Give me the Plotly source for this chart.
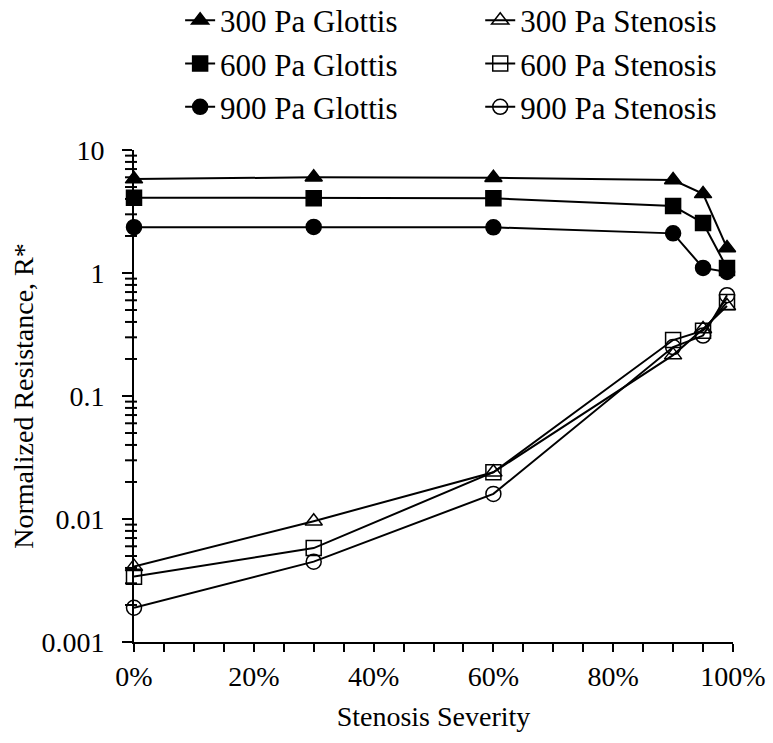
import plotly.graph_objects as go

severity = [0.0, 0.30, 0.60, 0.90, 0.95, 0.99]
glottis_300 = [5.8, 6.0, 5.95, 5.7, 4.4, 1.6]
glottis_600 = [4.1, 4.05, 4.05, 3.5, 2.55, 1.1]
glottis_900 = [2.36, 2.37, 2.35, 2.1, 1.1, 1.02]
stenosis_300 = [0.0041, 0.0096, 0.024, 0.215, 0.35, 0.54]
stenosis_600 = [0.0034, 0.0058, 0.024, 0.285, 0.34, 0.58]
stenosis_900 = [0.0019, 0.0045, 0.016, 0.25, 0.31, 0.66]

y_major = [0.001, 0.01, 0.1, 1, 10]
y_major_text = ["0.001", "0.01", "0.1", "1", "10"]

series = [
    ("300 Pa Glottis", glottis_300, "triangle-up", "legend"),
    ("600 Pa Glottis", glottis_600, "square", "legend"),
    ("900 Pa Glottis", glottis_900, "circle", "legend"),
    ("300 Pa Stenosis", stenosis_300, "triangle-up-open", "legend2"),
    ("600 Pa Stenosis", stenosis_600, "square-open", "legend2"),
    ("900 Pa Stenosis", stenosis_900, "circle-open", "legend2"),
]

FONT = "Liberation Serif, Times New Roman, serif"

fig = go.Figure()
for name, vals, sym, lg in series:
    fig.add_trace(go.Scatter(
        x=severity, y=vals, name=name, mode="lines+markers",
        line=dict(color="black", width=2),
        marker=dict(symbol=sym, size=15, color="black",
                    line=dict(color="black", width=1.5)),
        cliponaxis=False, legend=lg,
    ))

# unlabelled sub-decade tick marks (2..9 x each decade) on the log axis
minor_vals = [m * v for v in y_major[:-1] for m in range(2, 10)]
for v in minor_vals:
    fig.add_shape(type="line", xref="x domain", yref="y",
                  x0=-0.015, x1=0.005, y0=v, y1=v,
                  line=dict(color="black", width=2), layer="above")

leg_common = dict(
    orientation="v", y=1.318, yanchor="top", xanchor="left",
    font=dict(family=FONT, size=31, color="black"),
    bgcolor="rgba(0,0,0,0)", traceorder="normal", tracegroupgap=0,
)

fig.update_layout(
    width=773, height=743,
    margin=dict(l=134, r=40, t=150, b=101, autoexpand=False),
    paper_bgcolor="white", plot_bgcolor="white",
    font=dict(family=FONT, size=28, color="black"),
    showlegend=True,
    legend=dict(x=0.077, **leg_common),
    legend2=dict(x=0.578, **leg_common),
    xaxis=dict(
        range=[0, 1], tickmode="linear", tick0=0, dtick=0.2, tickformat=".0%",
        showline=True, linecolor="black", linewidth=2,
        ticks="outside", ticklen=8, tickwidth=2, tickcolor="black",
        minor=dict(dtick=0.05, ticks="outside", ticklen=8, tickwidth=2, tickcolor="black"),
        showgrid=False, zeroline=False,
        title=dict(text="Stenosis Severity", font=dict(size=28), standoff=16),
    ),
    yaxis=dict(
        type="log", range=[-3, 1], tickmode="array",
        tickvals=y_major, ticktext=y_major_text, ticklabelstandoff=12,
        showline=True, linecolor="black", linewidth=2,
        ticks="outside", ticklen=10, tickwidth=2, tickcolor="black",
        showgrid=False, zeroline=False,
        title=dict(text="Normalized Resistance, R*", font=dict(size=28), standoff=0),
    ),
)

fig.write_html("out.html")
